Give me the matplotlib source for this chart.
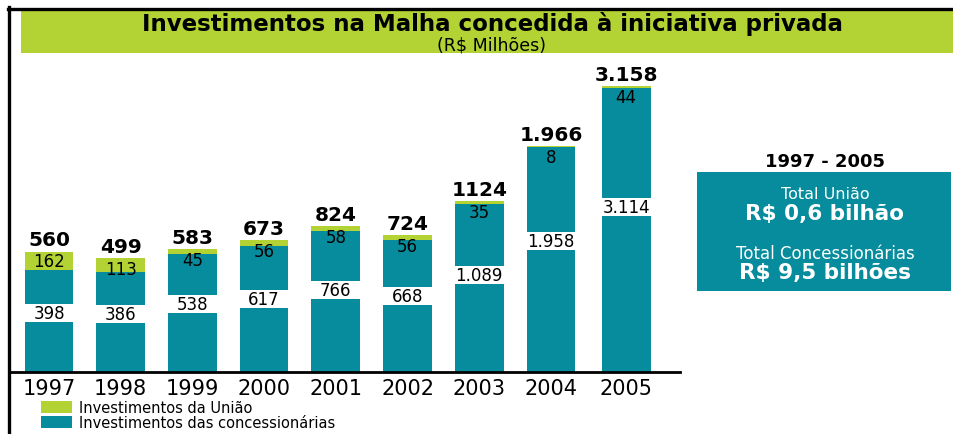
import numpy as np
import matplotlib
matplotlib.use("Agg")
import matplotlib.pyplot as plt
from matplotlib.patches import Rectangle
from matplotlib.lines import Line2D

plt.rcParams['font.family'] = ['DejaVu Sans']

# dados (R$ milhões)
anos = ['1997', '1998', '1999', '2000', '2001', '2002', '2003', '2004', '2005']
concessionarias = [398, 386, 538, 617, 766, 668, 1089, 1958, 3114]
uniao = [162, 113, 45, 56, 58, 56, 35, 8, 44]
total_labels = ['560', '499', '583', '673', '824', '724', '1124', '1.966', '3.158']

VERDE = '#B3D334'
AZUL = '#068C9C'


def fmt(v):
    return f"{v:,}".replace(",", ".")


W, H = 954, 435
fig = plt.figure(figsize=(W / 100, H / 100), dpi=100)


def fx(px):
    return px / W


def fy(py):
    return 1 - py / H


# moldura e faixa do titulo
fig.add_artist(Line2D([fx(8), 1], [fy(9.5), fy(9.5)], color='black', lw=2.4))
fig.add_artist(Line2D([fx(9.5), fx(9.5)], [fy(8), 0], color='black', lw=2.4))
fig.add_artist(Rectangle((fx(21), fy(54)), 1 - fx(21), fy(11) - fy(54),
                         facecolor=VERDE, edgecolor='none'))
fig.text(fx(492), fy(24), 'Investimentos na Malha concedida à iniciativa privada',
         ha='center', va='center', fontsize=16.5, fontweight='bold')
fig.text(fx(492), fy(45.5), '(R$ Milhões)', ha='center', va='center', fontsize=12.5)

# grafico de barras (escala raiz quadrada: o original nao e proporcional)
ax = fig.add_axes([fx(10), fy(373), fx(680) - fx(10), fy(60) - fy(373)])
ax.set_yscale('function', functions=(lambda v: np.sqrt(np.clip(v, 0, None)),
                                      lambda v: np.square(v)))
ax.set_ylim(0, 3780)

x = np.arange(len(anos), dtype=float)
x[-1] += 0.05
conc = np.array(concessionarias)
uni = np.array(uniao)
tot = conc + uni

b1 = ax.bar(x, conc, width=0.68, color=AZUL, label='Investimentos das concessionárias')
b2 = ax.bar(x, uni, bottom=conc, width=0.68, color=VERDE, label='Investimentos da União')

# faixa branca com o valor das concessionarias
px_per_unit = (fy(60) - fy(373)) * H / np.sqrt(3780)
half = 9 / px_per_unit
centro = 0.58 * np.sqrt(conc)
lo = (centro - half) ** 2
hi = (centro + half) ** 2
ax.bar(x, hi - lo, bottom=lo, width=0.69, color='white')
for xi, c, v in zip(x, centro, conc):
    ax.text(xi, c ** 2, fmt(v), ha='center', va='center', fontsize=12)

# valores da Uniao: no meio do segmento verde, ou logo abaixo do topo se ele for fino
for xi, c, u in zip(x, conc, uni):
    alto = px_per_unit * (np.sqrt(c + u) - np.sqrt(c))
    if alto > 18:
        ym = ((np.sqrt(c) + np.sqrt(c + u)) / 2) ** 2
        ax.text(xi, ym, str(u), ha='center', va='center', fontsize=12)
    else:
        ax.annotate(str(u), (xi, c + u), xytext=(0, -1.5), textcoords='offset points',
                    ha='center', va='top', fontsize=12)

# totais
for xi, t, lab in zip(x, tot, total_labels):
    ax.annotate(lab, (xi, t), xytext=(0, 1.5), textcoords='offset points',
                ha='center', va='bottom', fontsize=14.5, fontweight='bold')

ax.set_xlim(-0.544, 8.80)
for s in ['top', 'right', 'left']:
    ax.spines[s].set_visible(False)
ax.spines['bottom'].set_linewidth(2)
ax.set_yticks([])
ax.yaxis.set_minor_locator(matplotlib.ticker.NullLocator())
ax.set_xticks(x)
ax.set_xticklabels(anos, fontsize=15)
ax.tick_params(axis='x', length=0, pad=4)

# legenda
fig.legend(handles=[b2, b1], loc='upper left', bbox_to_anchor=(fx(41), fy(401)),
           frameon=False, fontsize=10.5, handlelength=2.1, handleheight=0.8,
           labelspacing=0.0, handletextpad=0.5, borderpad=0, borderaxespad=0)

# quadro resumo
fig.text(fx(825), fy(162), '1997 - 2005', ha='center', va='center',
         fontsize=13, fontweight='bold')
fig.add_artist(Rectangle((fx(697), fy(292)), fx(951) - fx(697), fy(173) - fy(292),
                         facecolor=AZUL, edgecolor='none'))
fig.text(fx(825), fy(195), 'Total União', ha='center', va='center',
         fontsize=11.5, color='white')
fig.text(fx(825), fy(214), 'R$ 0,6 bilhão', ha='center', va='center',
         fontsize=15.5, fontweight='bold', color='white')
fig.text(fx(825), fy(254), 'Total Concessionárias', ha='center', va='center',
         fontsize=12, color='white')
fig.text(fx(825), fy(273), 'R$ 9,5 bilhões', ha='center', va='center',
         fontsize=15.5, fontweight='bold', color='white')

fig.savefig('out.png', dpi=100)
